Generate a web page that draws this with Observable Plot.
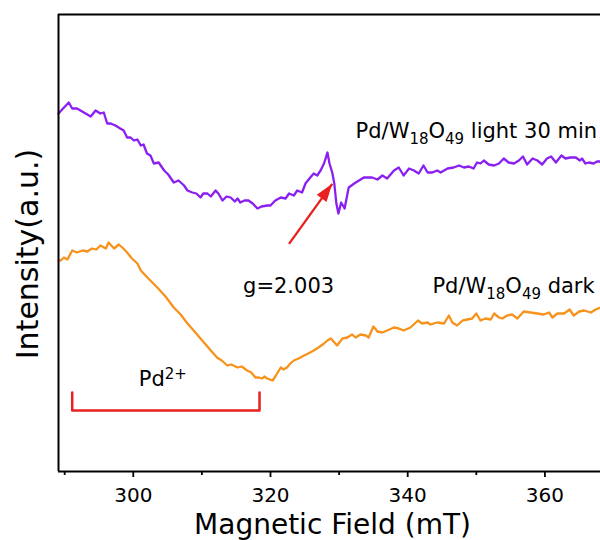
<!DOCTYPE html>
<html>
<head>
<meta charset="utf-8">
<script src="https://cdn.jsdelivr.net/npm/d3@7"></script>
<script src="https://cdn.jsdelivr.net/npm/@observablehq/plot@0.6"></script>
<style>
  html, body { margin: 0; padding: 0; background: #fff; }
  #chart { width: 600px; height: 540px; }
</style>
</head>
<body>
<div id="chart"></div>
<script>
// ---- data ----
const purpleField = [289.1,289.9,290.6,291.1,291.8,292.8,293.8,294.5,295.2,295.7,296.2,296.7,297.4,298.1,298.6,299.1,299.6,300.1,300.6,301.1,301.5,302.0,302.5,303.0,303.7,304.5,305.1,305.9,306.6,307.4,307.9,308.6,309.2,309.8,310.2,310.8,311.3,312.0,312.4,313.0,313.6,314.2,314.8,315.2,315.6,316.2,316.8,317.4,318.1,318.7,319.5,320.0,320.7,321.5,322.2,322.7,323.4,323.9,324.6,325.1,325.8,326.3,326.8,327.3,327.8,328.3,328.6,329.0,329.3,329.6,329.9,330.3,330.8,
  331.4,332.2,333.6,334.3,334.8,335.6,336.3,337.0,338.0,338.7,339.4,340.2,340.9,341.6,342.3,342.9,343.6,344.3,344.8,345.8,346.7,347.5,348.2,348.9,349.6,350.1,350.6,351.1,351.8,352.6,353.3,354.0,354.7,355.5,356.2,356.8,357.4,358.2,358.9,359.6,360.3,360.9,361.6,362.4,363.0,363.7,364.5,365.1,365.4,365.9,366.4,367.1,367.6,368.1];
const purpleIntensity = [358,364,369,363,363,359,355,361,358,359,348,348,346,343,341,334,334,331,332,326,327,318,316,308,309,301,297,289,291,286,281,279,278,274,278,278,275,281,278,271,275,274,270,273,269,271,271,268,263,265,266,266,271,274,273,278,276,281,279,288,294,298,296,301,308,319,308,299,288,268,258,269,263,
  284,288,294,294,294,292,296,293,301,304,296,303,301,298,306,299,299,301,299,303,304,306,304,305,303,309,308,311,307,306,308,313,309,308,311,315,307,313,311,307,313,315,309,316,313,314,314,311,313,308,309,308,310,310];

const orangeField = [289.1,289.4,289.9,290.4,291.1,291.8,292.6,293.3,294.0,294.6,295.2,296.0,296.4,297.2,297.9,298.4,299.1,299.8,300.6,301.1,302.2,303.5,304.7,305.9,306.9,307.9,308.8,309.8,311.3,312.2,312.9,313.7,314.3,315.2,315.8,316.6,317.2,317.8,318.3,318.8,319.1,319.5,319.9,320.3,320.7,321.5,321.9,322.4,322.9,323.4,324.1,324.9,325.5,326.3,327.0,327.8,328.3,
  328.8,329.7,330.5,331.2,331.9,332.4,333.1,333.9,334.3,335.0,335.6,336.3,337.0,338.0,338.7,339.4,340.4,341.5,342.1,342.9,343.3,344.3,345.3,346.0,346.5,347.2,348.0,348.7,349.4,350.0,350.6,351.3,352.1,352.6,353.3,353.8,354.5,355.2,356.0,356.9,357.9,358.9,359.8,360.6,361.1,361.8,362.8,363.6,364.2,365.0,365.7,366.7,367.4,368.1];
const orangeIntensity = [211,211,214,212,221,219,221,220,223,222,226,223,229,223,227,224,219,213,208,201,193,184,175,164,157,148,141,133,121,114,111,106,107,104,105,101,99,94,94,93,95,93,92,91,95,104,102,104,108,111,113,116,118,121,124,128,131,
  133,126,133,134,137,134,137,136,134,145,140,139,141,144,143,141,144,151,148,149,147,149,148,156,149,146,151,152,153,158,151,153,152,158,154,153,156,157,153,160,159,158,157,159,154,158,158,162,156,160,161,159,162,164];

const xDomain = [289.1, 368.1];
const yDomain = [0, 457];
const majorTicks = [300, 320, 340, 360];
const minorTicks = [290, 310, 330, 350];

const labelText = ["Pd/W18O49 light 30 min", "Pd/W18O49 dark", "g=2.003", "Pd2+"];
const labelX = [332.4, 343.6, 316.0, 300.8];
const labelY = [333.7, 179, 179, 86];

const arrowTail = [322.7, 227.7];
const arrowHead = [329.0, 287.7];

const bracketX = [291.1, 291.1, 318.4, 318.4];
const bracketY = [79, 61, 61, 79];

const xTitle = "Magnetic Field (mT)";
const yTitle = "Intensity(a.u.)";

// ---- build tables ----
const purple = purpleField.map((x, i) => ({x, y: purpleIntensity[i]}));
const orange = orangeField.map((x, i) => ({x, y: orangeIntensity[i]}));
const labels = labelText.map((t, i) => ({t, x: labelX[i], y: labelY[i]}));
const bracket = bracketX.map((x, i) => ({x, y: bracketY[i]}));
const arrow = [{x1: arrowTail[0], y1: arrowTail[1], x2: arrowHead[0], y2: arrowHead[1]}];

const PURPLE = "#8a1ff2";
const ORANGE = "#f7921c";
const RED = "#e8201f";

const headSymbol = {
  draw(context) {
    context.moveTo(0, 0);
    context.lineTo(-6, 18);
    context.lineTo(6, 18);
    context.closePath();
  }
};

const chart = Plot.plot({
  width: 600,
  height: 540,
  marginLeft: 58,
  marginRight: 0,
  marginTop: 14,
  marginBottom: 69,
  style: {fontFamily: "DejaVu Sans", fontSize: "20px", background: "white", color: "black", overflow: "visible"},
  x: {domain: xDomain},
  y: {domain: yDomain, axis: null},
  marks: [
    Plot.line(purple, {x: "x", y: "y", stroke: PURPLE, strokeWidth: 2.3}),
    Plot.line(orange, {x: "x", y: "y", stroke: ORANGE, strokeWidth: 2.3}),
    Plot.line(bracket, {x: "x", y: "y", stroke: RED, strokeWidth: 2.5}),
    Plot.link(arrow, {x1: "x1", y1: "y1", x2: "x2", y2: "y2", stroke: RED, strokeWidth: 2.3}),
    Plot.dot([arrow[0]], {x: "x2", y: "y2", symbol: headSymbol, r: 5, fill: RED, stroke: "none", rotate: 36}),
    Plot.text(labels, {x: "x", y: "y", text: "t", textAnchor: "start", lineAnchor: "bottom", fontSize: 21, fill: "black", className: "anno"}),
    Plot.ruleX([xDomain[0]], {stroke: "black", strokeWidth: 2}),
    Plot.ruleY([yDomain[0], yDomain[1]], {stroke: "black", strokeWidth: 2}),
    Plot.axisX({ticks: majorTicks, tickSize: 6, tickPadding: 10, fontSize: 20, strokeWidth: 1.8, label: null, tickFormat: d => String(d)}),
    Plot.axisX({ticks: minorTicks, tickSize: 4, strokeWidth: 1.8, label: null, tickFormat: () => ""}),
    Plot.text([xTitle], {frameAnchor: "bottom", dy: 62, dx: 3, textAnchor: "middle", lineAnchor: "bottom", fontSize: 28, fill: "black"}),
    Plot.text([yTitle], {frameAnchor: "left", rotate: -90, dx: -21, dy: 11, textAnchor: "middle", lineAnchor: "bottom", fontSize: 30, fill: "black"})
  ]
});

// sub/superscripts for chemical formulas and ion charge
const NS = "http://www.w3.org/2000/svg";
chart.querySelectorAll(".anno text").forEach(t => {
  const s = t.textContent;
  const re = /([WO])(\d+)|(Pd)(\d\+)/g;
  const parts = [];
  let last = 0, m;
  while ((m = re.exec(s)) !== null) {
    const head = m[1] || m[3];
    const tail = m[2] || m[4];
    parts.push({text: s.slice(last, m.index) + head, kind: "n"});
    parts.push({text: tail, kind: m[2] ? "sub" : "sup"});
    last = re.lastIndex;
  }
  parts.push({text: s.slice(last), kind: "n"});
  while (t.firstChild) t.removeChild(t.firstChild);
  let shift = 0;
  parts.forEach(p => {
    if (!p.text) return;
    const ts = document.createElementNS(NS, "tspan");
    ts.textContent = p.text;
    let target = 0;
    if (p.kind === "sub") { target = 6.5; ts.setAttribute("font-size", "15"); }
    if (p.kind === "sup") { target = -7; ts.setAttribute("font-size", "15"); }
    const d = target - shift;
    if (d !== 0) ts.setAttribute("dy", d);
    shift = target;
    t.appendChild(ts);
  });
});

document.getElementById("chart").appendChild(chart);
</script>
</body>
</html>
